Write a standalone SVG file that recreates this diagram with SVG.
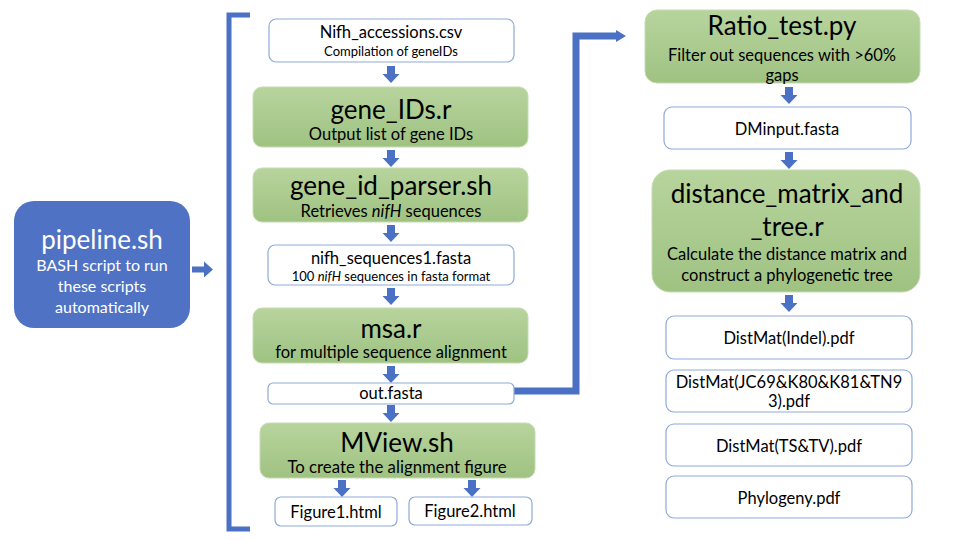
<svg xmlns="http://www.w3.org/2000/svg" xmlns:xlink="http://www.w3.org/1999/xlink" width="960" height="540" viewBox="0 0 960 540">
<defs>
<linearGradient id="gg" x1="0" y1="0" x2="0" y2="1">
<stop offset="0" stop-color="#b7d49d"/>
<stop offset="1" stop-color="#9fc282"/>
</linearGradient>
<path id="da" d="M-4,0 H4 V8 H8.5 L0,17 L-8.5,8 H-4 Z" fill="#4a71c4"/>
</defs>
<style>
text{font-family:Lato,"Open Sans","Liberation Sans",sans-serif;text-anchor:middle;fill:#000}
.w{fill:#fff;stroke:#8eaadb;stroke-width:1.2}
.g{fill:url(#gg);stroke:#c5dcb3;stroke-width:1}
.t26{font-size:26px}
.t15{font-size:16.5px}
.t11{font-size:13px}
.t16{font-size:16px}
.t17{font-size:16.8px}
</style>
<rect width="960" height="540" fill="#fff"/>

<g id="pipeline">
<rect x="14" y="201" width="176" height="127" rx="20" fill="#4f72c4"/>
<text x="102" y="249" class="t26" style="fill:#fff">pipeline.sh</text>
<text x="102" y="271" class="t16" style="fill:#fff">BASH script to run</text>
<text x="102" y="292" class="t16" style="fill:#fff">these scripts</text>
<text x="102" y="313" class="t16" style="fill:#fff">automatically</text>
</g>

<g id="connectors">
<path d="M192,266.5 H204 V261.5 L213,269.5 L204,277.5 V272.5 H192 Z" fill="#4a71c4"/>
<path d="M250,15 H229 V529 H250" fill="none" stroke="#4a71c4" stroke-width="5"/>
<use xlink:href="#da" x="391" y="66"/>
<use xlink:href="#da" x="391" y="150"/>
<use xlink:href="#da" x="391" y="225"/>
<use xlink:href="#da" x="391" y="288"/>
<use xlink:href="#da" x="391" y="366"/>
<use xlink:href="#da" x="391" y="405"/>
<use xlink:href="#da" x="342" y="480"/>
<use xlink:href="#da" x="472" y="480"/>
<use xlink:href="#da" x="789" y="87"/>
<use xlink:href="#da" x="789" y="152"/>
<use xlink:href="#da" x="789" y="295"/>
<path d="M514,391 H576 V36 H617" fill="none" stroke="#4a71c4" stroke-width="7"/>
<path d="M616,30 L626,36 L616,42 Z" fill="#4a71c4"/>
</g>

<g id="nifh_accessions">
<rect x="269" y="19" width="245" height="43" rx="7" class="w"/>
<text x="391" y="38" class="t15">Nifh_accessions.csv</text>
<text x="391" y="56" class="t11">Compilation of geneIDs</text>
</g>

<g id="gene_IDs">
<rect x="253" y="87" width="275" height="60" rx="9" class="g"/>
<text x="391" y="119" class="t26">gene_IDs.r</text>
<text x="391" y="140" class="t15">Output list of gene IDs</text>
</g>

<g id="gene_id_parser">
<rect x="253" y="168" width="275" height="54" rx="9" class="g"/>
<text x="391" y="195" class="t26">gene_id_parser.sh</text>
<text x="391" y="217" class="t15">Retrieves <tspan font-style="italic">nifH</tspan> sequences</text>
</g>

<g id="nifh_sequences">
<rect x="268" y="245" width="246" height="40" rx="7" class="w"/>
<text x="391" y="264" class="t15">nifh_sequences1.fasta</text>
<text x="391" y="281" class="t11">100 <tspan font-style="italic">nifH</tspan> sequences in fasta format</text>
</g>

<g id="msa">
<rect x="253" y="308" width="275" height="55" rx="9" class="g"/>
<text x="391" y="338" class="t26">msa.r</text>
<text x="391" y="358" class="t15">for multiple sequence alignment</text>
</g>

<g id="out_fasta">
<rect x="268" y="383" width="246" height="21" rx="5" class="w"/>
<text x="391" y="399" class="t15">out.fasta</text>
</g>

<g id="mview">
<rect x="260" y="423" width="275" height="55" rx="9" class="g"/>
<text x="397" y="452" class="t26">MView.sh</text>
<text x="397" y="473" class="t17">To create the alignment figure</text>
</g>

<g id="figure1">
<rect x="275" y="497" width="122" height="29" rx="6" class="w"/>
<text x="336" y="518" class="t15">Figure1.html</text>
</g>

<g id="figure2">
<rect x="409" y="497" width="123" height="28" rx="6" class="w"/>
<text x="470" y="517" class="t15">Figure2.html</text>
</g>

<g id="ratio_test">
<rect x="645" y="10" width="275" height="73" rx="12" class="g"/>
<text x="782" y="35" class="t26">Ratio_test.py</text>
<text x="782" y="61" class="t15">Filter out sequences with &gt;60%</text>
<text x="782" y="81" class="t15">gaps</text>
</g>

<g id="dminput">
<rect x="664" y="107" width="247" height="42" rx="8" class="w"/>
<text x="787" y="135" class="t15">DMinput.fasta</text>
</g>

<g id="distance_matrix">
<rect x="652" y="170" width="268" height="122" rx="18" class="g"/>
<text x="787" y="203" class="t26">distance_matrix_and</text>
<text x="787" y="236" class="t26">_tree.r</text>
<text x="787" y="260" class="t15">Calculate the distance matrix and</text>
<text x="787" y="281" class="t15">construct a phylogenetic tree</text>
</g>

<g id="distmat_indel">
<rect x="666" y="316" width="246" height="43" rx="8" class="w"/>
<text x="789" y="344" class="t15">DistMat(Indel).pdf</text>
</g>

<g id="distmat_jc69">
<rect x="666" y="370" width="246" height="42" rx="8" class="w"/>
<text x="789" y="388" class="t15">DistMat(JC69&amp;K80&amp;K81&amp;TN9</text>
<text x="789" y="407" class="t15">3).pdf</text>
</g>

<g id="distmat_tstv">
<rect x="666" y="424" width="246" height="42" rx="8" class="w"/>
<text x="789" y="452" class="t15">DistMat(TS&amp;TV).pdf</text>
</g>

<g id="phylogeny">
<rect x="666" y="476" width="246" height="42" rx="8" class="w"/>
<text x="789" y="504" class="t15">Phylogeny.pdf</text>
</g>
</svg>
